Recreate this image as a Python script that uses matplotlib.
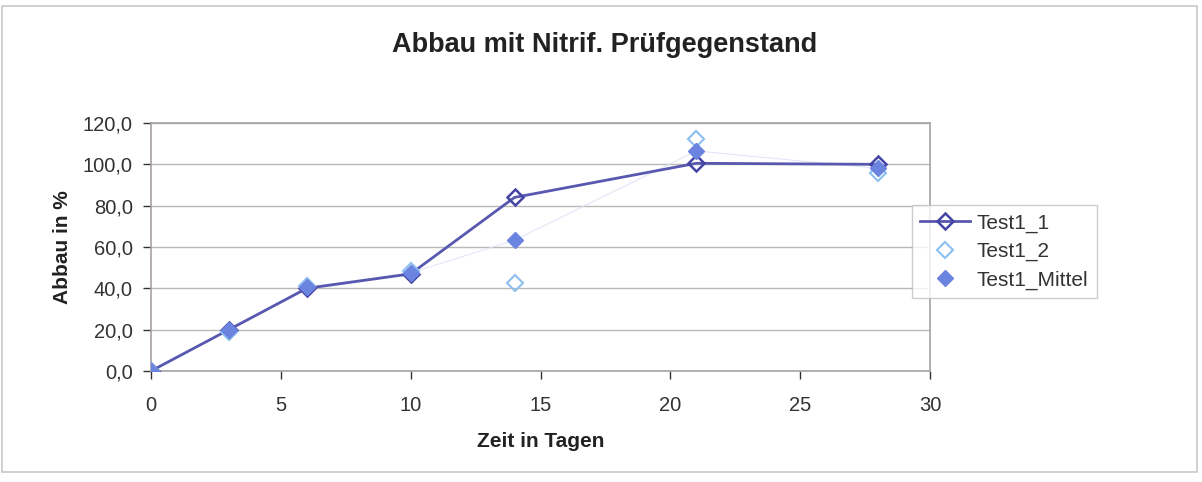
import matplotlib
matplotlib.use("Agg")
import matplotlib.pyplot as plt
from matplotlib.patches import Rectangle

plt.rcParams['font.family'] = ['Liberation Sans', 'DejaVu Sans']

days = [0, 3, 6, 10, 14, 21, 28]
test1_1 = [0.0, 20.0, 40.0, 47.0, 84.0, 100.5, 100.0]
test1_2 = [0.0, 19.0, 41.0, 48.5, 42.5, 112.5, 96.0]
test1_mittel = [0.0, 20.0, 40.5, 47.5, 63.3, 106.5, 98.0]

W, H = 1202, 482
fig = plt.figure(figsize=(W / 100, H / 100), dpi=100)
fig.patch.set_facecolor('white')
fig.patches.append(Rectangle((2 / W, 10 / H), 1195 / W, 466 / H, transform=fig.transFigure,
                             fill=False, edgecolor='#c8c8c8', linewidth=1.2))

ax = fig.add_axes([151 / W, 1 - 371 / H, (930 - 151) / W, (371 - 123) / H])

ax.plot(days, test1_mittel, color='#dfe3f6', linewidth=0.7, zorder=1)
ax.plot(days, test1_1, color='#5858b0', linewidth=2, marker='D', markersize=8,
        markerfacecolor='none', markeredgecolor='#4444a4', markeredgewidth=1.8,
        label='Test1_1', zorder=3)
ax.plot(days, test1_2, linestyle='none', marker='D', markersize=8,
        markerfacecolor='none', markeredgecolor='#8cc0f0', markeredgewidth=1.5,
        label='Test1_2', zorder=3)
ax.plot(days, test1_mittel, linestyle='none', marker='D', markersize=8,
        markerfacecolor='#6a84e0', markeredgecolor='#6a84e0',
        label='Test1_Mittel', zorder=4)

ax.set_xlim(0, 30)
ax.set_ylim(0, 120)
ax.set_xticks(range(0, 31, 5))
ax.set_yticks(range(0, 121, 20))
ax.set_yticklabels([f"{v:.1f}".replace('.', ',') for v in range(0, 121, 20)])
ax.tick_params(axis='both', labelsize=14.5, colors='#333333', length=6, width=1,
               direction='out')
ax.tick_params(axis='x', pad=12)
ax.tick_params(axis='y', pad=7)
ax.grid(axis='y', color='#b8b8b8', linewidth=1)
ax.set_axisbelow(True)
for s in ax.spines.values():
    s.set_color('#a8a0a8')
    s.set_linewidth(1.2)

ax.set_xlabel('Zeit in Tagen', fontsize=15, fontweight='bold', color='#222222', labelpad=12)
ax.set_ylabel('Abbau in %', fontsize=15, fontweight='bold', color='#222222', labelpad=8)
fig.text(605 / W, 1 - 45 / H, 'Abbau mit Nitrif. Prüfgegenstand', ha='center', va='center',
         fontsize=19.5, fontweight='bold', color='#222222')

leg = fig.legend(loc='upper left', bbox_to_anchor=(912 / W, 1 - 205 / H),
                 fontsize=15, frameon=True, fancybox=False, handlelength=2.4,
                 borderpad=0.4, labelspacing=0.45, handletextpad=0.3,
                 borderaxespad=0)
leg.get_frame().set_edgecolor('#c0c0c0')
leg.get_frame().set_linewidth(1)
for t in leg.get_texts():
    t.set_color('#333333')

fig.savefig('out.png', dpi=100, facecolor='white')
